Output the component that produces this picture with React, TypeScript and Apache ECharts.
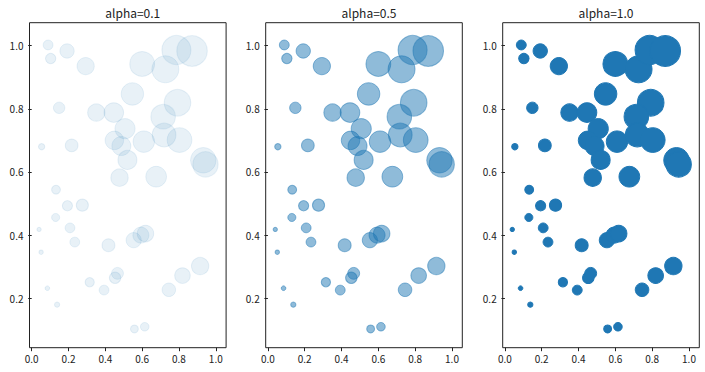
import React, { useEffect, useRef } from "react";
import * as echarts from "echarts";

const xValues = [
  0.089, 0.192, 0.103, 0.293, 0.600, 0.726, 0.786, 0.871, 0.547, 0.792,
  0.149, 0.351, 0.446, 0.507, 0.714, 0.449, 0.487, 0.609, 0.719, 0.803,
  0.520, 0.932, 0.944, 0.054, 0.217, 0.477, 0.676, 0.132, 0.194, 0.275,
  0.130, 0.040, 0.208, 0.234, 0.051, 0.417, 0.554, 0.593, 0.618, 0.085,
  0.315, 0.393, 0.453, 0.466, 0.745, 0.819, 0.915, 0.138, 0.558, 0.614,
];
const yValues = [
  1.002, 0.983, 0.959, 0.935, 0.942, 0.925, 0.986, 0.983, 0.847, 0.819,
  0.803, 0.788, 0.788, 0.737, 0.775, 0.700, 0.682, 0.696, 0.717, 0.701,
  0.638, 0.637, 0.624, 0.680, 0.684, 0.582, 0.585, 0.544, 0.493, 0.495,
  0.456, 0.418, 0.423, 0.378, 0.346, 0.368, 0.384, 0.400, 0.405, 0.232,
  0.251, 0.226, 0.265, 0.279, 0.227, 0.272, 0.302, 0.180, 0.103, 0.110,
];
const alphas = [0.1, 0.5, 1.0];
const xTicks = [0, 0.2, 0.4, 0.6, 0.8, 1.0];
const yTicks = [0.2, 0.4, 0.6, 0.8, 1.0];

const FONT = "Noto Sans CJK KR";

export default function App() {
  const ref = useRef<HTMLDivElement>(null);
  useEffect(() => {
    if (!ref.current) return;
    const chart = echarts.init(ref.current, null, { renderer: "svg" });
    const lefts = [29.5, 265.7, 502.7];
    const w = 196.6;
    const top = 22.7;
    const h = 325;
    const data = xValues.map((x, i) => [x, yValues[i]]);
    chart.setOption({
      animation: false,
      backgroundColor: "#fff",
      textStyle: { fontFamily: FONT },
      title: alphas.map((a, i) => ({
        text: "alpha=" + a.toFixed(1),
        left: lefts[i] + w / 2,
        textAlign: "center",
        top: 1,
        textStyle: { fontFamily: FONT, fontSize: 12, fontWeight: "normal", color: "#222" },
      })),
      grid: alphas.map((_, i) => ({
        left: lefts[i],
        top,
        width: w,
        height: h,
        show: true,
        borderColor: "#222",
        borderWidth: 1,
        backgroundColor: "transparent",
      })),
      xAxis: alphas.map((_, i) => ({
        type: "value",
        gridIndex: i,
        min: -0.012,
        max: 1.056,
        axisLine: { show: false },
        splitLine: { show: false },
        axisTick: { show: true, length: 3.5, customValues: xTicks, lineStyle: { color: "#222" } },
        axisLabel: {
          customValues: xTicks,
          formatter: (v: number) => v.toFixed(1),
          fontSize: 10,
          fontFamily: FONT,
          color: "#222",
          margin: 6,
        },
      })),
      yAxis: alphas.map((_, i) => ({
        type: "value",
        gridIndex: i,
        min: 0.0437,
        max: 1.0725,
        axisLine: { show: false },
        splitLine: { show: false },
        axisTick: { show: true, length: 3.5, customValues: yTicks, lineStyle: { color: "#222" } },
        axisLabel: {
          customValues: yTicks,
          formatter: (v: number) => v.toFixed(1),
          fontSize: 10,
          fontFamily: FONT,
          color: "#222",
          margin: 6,
        },
      })),
      series: alphas.map((a, i) => ({
        type: "scatter",
        xAxisIndex: i,
        yAxisIndex: i,
        data,
        symbol: "circle",
        symbolSize: (v: number[]) => 33 * Math.sqrt(v[0] * v[1]),
        itemStyle: {
          color: `rgba(31,119,180,${a})`,
          borderColor: `rgba(31,119,180,${a})`,
          borderWidth: 1,
          opacity: 1,
        },
        emphasis: { disabled: true },
      })),
    });
    return () => chart.dispose();
  }, []);
  return (
    <div
      ref={ref}
      style={{ position: "fixed", left: 0, top: 0, width: 705, height: 372 }}
    />
  );
}
